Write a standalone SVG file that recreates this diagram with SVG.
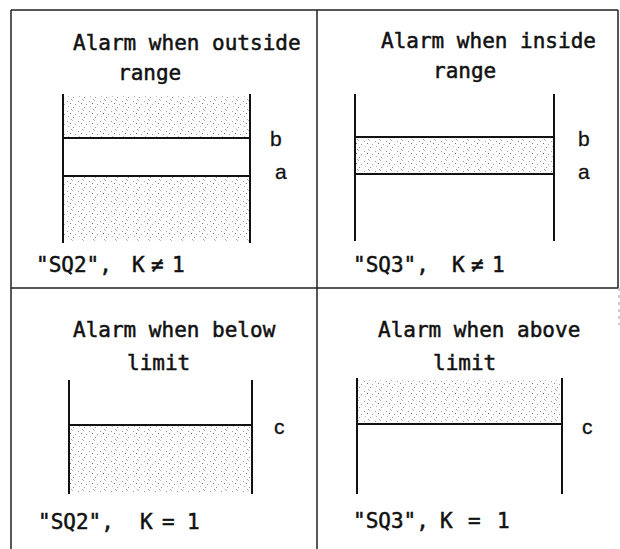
<svg xmlns="http://www.w3.org/2000/svg" width="620" height="549" viewBox="0 0 620 549">
<style>
.frame{stroke:#222;stroke-width:1.5;fill:none}
.bar{stroke:#111;stroke-width:2;fill:none}
.t{font-family:"DejaVu Sans Mono","Liberation Mono",monospace;font-size:21px;fill:#111;stroke:#111;stroke-width:0.5}
.lab{font-family:"Liberation Sans",Arial,sans-serif;font-size:21px;fill:#111;stroke:#111;stroke-width:0.3}
.dots{fill:url(#stip);stroke:none}
</style>
<defs>
<pattern id="stip" width="11" height="10" patternUnits="userSpaceOnUse">
<rect width="11" height="10" fill="#fdfdfd"/>
<rect x="1" y="1" width="1" height="1" fill="#a0a0a0"/>
<rect x="6" y="0" width="1" height="1" fill="#bbb"/>
<rect x="4" y="3" width="1" height="1" fill="#777"/>
<rect x="9" y="4" width="1" height="1" fill="#aaa"/>
<rect x="2" y="6" width="1" height="1" fill="#bbb"/>
<rect x="7" y="7" width="1" height="1" fill="#999"/>
<rect x="5" y="9" width="1" height="1" fill="#aaa"/>
</pattern>
</defs>
<g id="frame">
<path class="frame" d="M11,10 H618 M11,10 V549 M317,10 V549 M11,288 H618 M618,10 V288"/>
<path d="M619,288 V325" stroke="#999" stroke-width="1" stroke-dasharray="3,4" fill="none"/>
</g>
<g id="outside">
<text class="t" x="73" y="50">Alarm when outside</text>
<text class="t" x="118" y="80">range</text>
<rect class="dots" x="64" y="96" width="185" height="42"/>
<rect class="dots" x="64" y="176" width="185" height="65"/>
<path class="bar" d="M63,94 V243 M250,94 V243 M63,138 H250 M63,176 H250"/>
<text class="lab" x="270" y="146">b</text>
<text class="lab" x="275" y="179">a</text>
<text class="t" y="272"><tspan x="36">"SQ2",</tspan><tspan x="132">K</tspan><tspan x="151">≠</tspan><tspan x="172">1</tspan></text>
</g>
<g id="inside">
<text class="t" x="381" y="48">Alarm when inside</text>
<text class="t" x="433" y="78">range</text>
<rect class="dots" x="356" y="137" width="197" height="37"/>
<path class="bar" d="M355,94 V241 M554,94 V241 M355,137 H554 M355,174 H554"/>
<text class="lab" x="578" y="146">b</text>
<text class="lab" x="578" y="179">a</text>
<text class="t" y="272"><tspan x="353">"SQ3",</tspan><tspan x="452">K</tspan><tspan x="471">≠</tspan><tspan x="492">1</tspan></text>
</g>
<g id="below">
<text class="t" x="73" y="337">Alarm when below</text>
<text class="t" x="127" y="370">limit</text>
<rect class="dots" x="70" y="425" width="181" height="67"/>
<path class="bar" d="M69,380 V494 M252,380 V494 M69,425 H252"/>
<text class="lab" x="274" y="434">c</text>
<text class="t" y="529"><tspan x="38">"SQ2",</tspan><tspan x="140">K</tspan><tspan x="162">=</tspan><tspan x="187">1</tspan></text>
</g>
<g id="above">
<text class="t" x="378" y="337">Alarm when above</text>
<text class="t" x="433" y="370">limit</text>
<rect class="dots" x="358" y="380" width="203" height="44"/>
<path class="bar" d="M357,378 V494 M562,378 V494 M357,424 H562"/>
<text class="lab" x="582" y="434">c</text>
<text class="t" y="528"><tspan x="353">"SQ3",</tspan><tspan x="440">K</tspan><tspan x="468">=</tspan><tspan x="497">1</tspan></text>
</g>
</svg>
